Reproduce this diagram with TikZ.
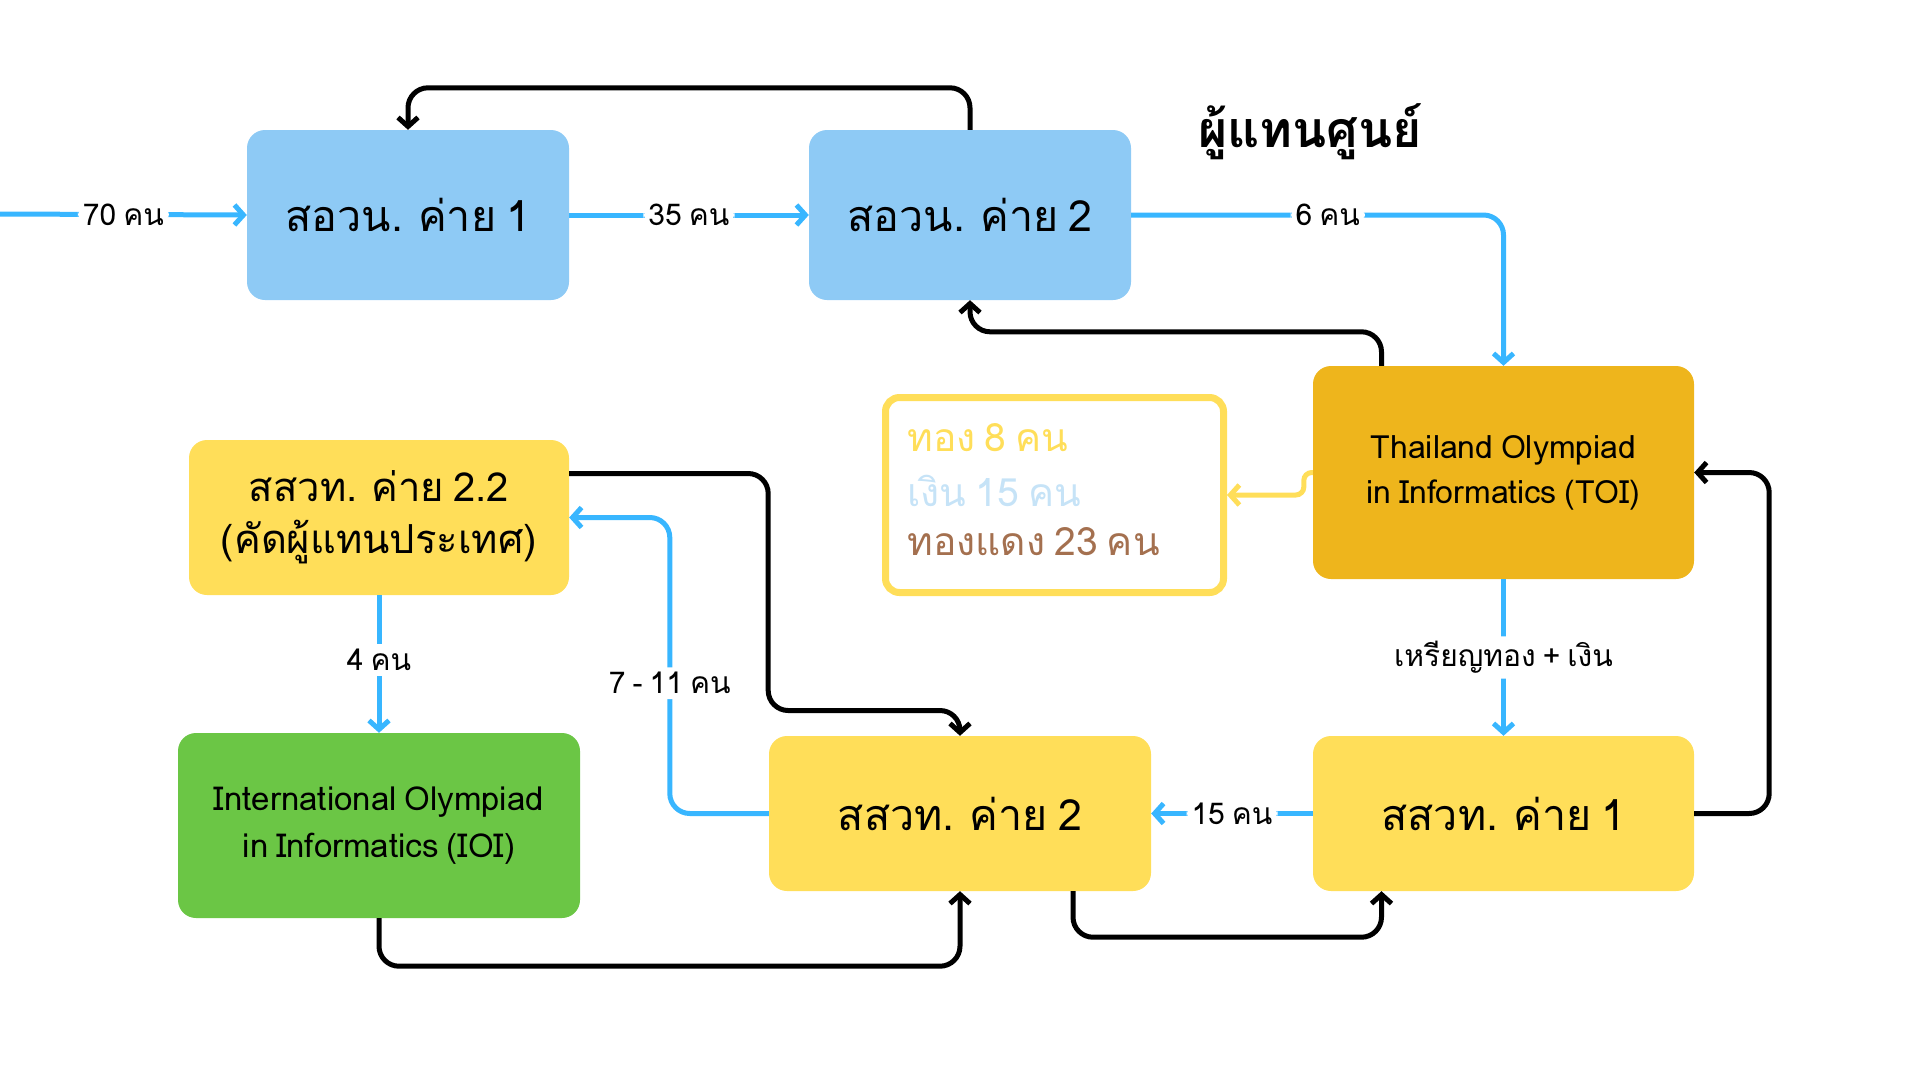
\documentclass[tikz,border=0pt]{standalone}
\usepackage{fontspec}
\setmainfont[Script=Thai, WordSpace=0.7]{Loma}
\usetikzlibrary{arrows.meta}
\definecolor{boxblue}{HTML}{8ECAF5}
\definecolor{lineblue}{HTML}{38B6FF}
\definecolor{boxyellow}{HTML}{FFDE59}
\definecolor{toigold}{HTML}{EEB51C}
\definecolor{ioigreen}{HTML}{6BC645}
\definecolor{goldtext}{HTML}{FFDE59}
\definecolor{silvertext}{HTML}{C6E3F7}
\definecolor{bronzetext}{HTML}{A4704F}
\begin{document}
\begin{tikzpicture}[x=1pt,y=-1pt,
  box/.style={rounded corners=18pt, inner sep=0pt, align=center},
  bigtxt/.style={font=\fontsize{43}{54}\selectfont},
  midtxt/.style={font=\fontsize{32}{45}\selectfont},
  bl/.style={draw=lineblue, line width=5pt, rounded corners=20pt, -{Straight Barb[length=9pt,width=20pt]}},
  bk/.style={draw=black, line width=5pt, rounded corners=20pt, -{Straight Barb[length=9pt,width=20pt]}},
  yl/.style={draw=boxyellow, line width=5pt, rounded corners=8pt, -{Straight Barb[length=9pt,width=20pt]}},
  lab/.style={fill=white, font=\fontsize{30}{36}\selectfont, inner sep=5pt, text=black},
  medtxt/.style={anchor=west, font=\fontsize{39}{48}\selectfont}
]
\useasboundingbox (0,0) rectangle (1920,1080);

% nodes
\node[box, bigtxt, fill=boxblue, minimum width=322pt, minimum height=170pt] (b1) at (408,215) {สอวน. ค่าย 1};
\node[box, bigtxt, fill=boxblue, minimum width=322pt, minimum height=170pt] (b2) at (970,215) {สอวน. ค่าย 2};
\node[font=\bfseries\fontsize{50}{60}\selectfont] (title) at (1310,132) {ผู้แทนศูนย์};
\node[box, midtxt, fill=toigold, minimum width=381pt, minimum height=213pt] (toi) at (1503.5,472.5) {Thailand Olympiad\\in Informatics (TOI)};
\node[draw=boxyellow, line width=7pt, rounded corners=14pt, minimum width=338pt, minimum height=195pt, inner sep=0pt] (medal) at (1054.5,495) {};
\node[medtxt, text=goldtext] (m1) at (904,438) {ทอง 8 คน};
\node[medtxt, text=silvertext] (m2) at (904,491) {เงิน 15 คน};
\node[medtxt, text=bronzetext] (m3) at (904,542) {ทองแดง 23 คน};
\node[box, font=\fontsize{40}{52}\selectfont, fill=boxyellow, minimum width=380pt, minimum height=155pt] (k22) at (379,517.5) {สสวท. ค่าย 2.2\\(คัดผู้แทนประเทศ)};
\node[box, font=\fontsize{33}{47}\selectfont, fill=ioigreen, minimum width=402pt, minimum height=185pt] (ioi) at (379,825.5) {International Olympiad\\in Informatics (IOI)};
\node[box, bigtxt, fill=boxyellow, minimum width=382pt, minimum height=155pt] (k2) at (960,813.5) {สสวท. ค่าย 2};
\node[box, bigtxt, fill=boxyellow, minimum width=381pt, minimum height=155pt] (k1) at (1503.5,813.5) {สสวท. ค่าย 1};
\coordinate (start) at (0,214);

% blue connectors
\draw[bl] (start) -- node[lab]{70 คน} (b1.west);
\draw[bl] (b1) -- node[lab]{35 คน} (b2);
\draw[bl] (b2.east) -| node[lab,pos=0.264]{6 คน} (toi.north);
\draw[bl] (toi.south) -- node[lab]{เหรียญทอง + เงิน} (k1.north);
\draw[bl] (k1.west) -- node[lab]{15 คน} (k2.east);
\draw[bl] (k2.west) -- ++(-99,0) |- node[lab,pos=0.22]{7 - 11 คน} (k22.east);
\draw[bl] (k22.south) -- node[lab,yshift=4pt]{4 คน} (ioi.north);

% yellow connector
\draw[yl] (toi.west) -- ++(-9,0) |- (medal.east);

% black connectors
\draw[bk] (b2.north) -- ++(0,-42) -| (b1.north);
\draw[bk] ([xshift=-122pt]toi.north) -- ++(0,-34) -| (b2.south);
\draw[bk] ([yshift=44pt]k22.east) -- ++(199,0) -- ++(0,237) -| (k2.north);
\draw[bk] (ioi.south) -- ++(0,48) -| (k2.south);
\draw[bk] ([xshift=113pt]k2.south) -- ++(0,46) -| ([xshift=-122pt]k1.south);
\draw[bk] (k1.east) -- ++(75,0) |- (toi.east);
\end{tikzpicture}
\end{document}
